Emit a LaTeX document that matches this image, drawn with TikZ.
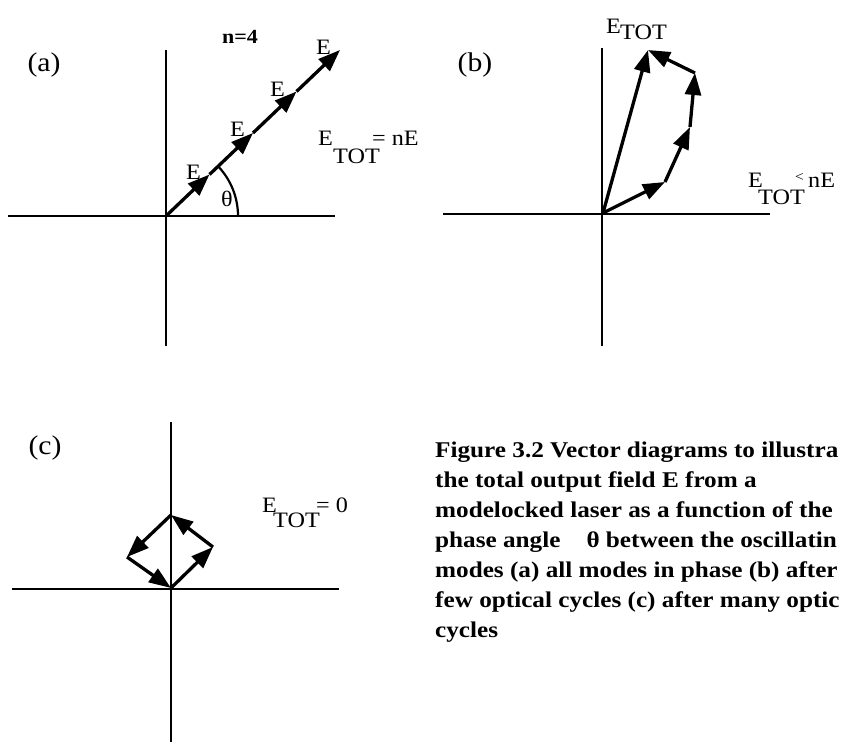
\documentclass[tikz,border=0pt]{standalone}
\usepackage{fontspec}
\setmainfont{Liberation Serif}[FakeStretch=1.1]
\newfontfamily\capfont{Liberation Serif}[FakeStretch=1.12]
\usetikzlibrary{arrows.meta}
\begin{document}
\begin{tikzpicture}[x=1pt,y=-1pt,
  axis/.style={line width=2.4pt},
  vec/.style={line width=3.3pt,-{Triangle[length=22pt,width=16pt]}},
  lbl/.style={font=\fontsize{22}{24}\selectfont, inner sep=0pt, anchor=base west},
  elbl/.style={font=\fontsize{22}{24}\selectfont, inner sep=0pt},
  panel/.style={font=\fontsize{27}{30}\selectfont, inner sep=0pt},
  captext/.style={font=\capfont\fontsize{22.5}{26}\selectfont\bfseries, inner sep=0pt, anchor=base west}]
\useasboundingbox[fill=white] (0,0) rectangle (847,744);

% ---------- panel (a)
\coordinate (aL) at (8,216);
\coordinate (aR) at (335,216);
\coordinate (aU) at (166,50);
\coordinate (aD) at (166,346);
\draw[axis] (aL) -- (aR);
\draw[axis] (aU) -- (aD);
\coordinate (a0) at (166,216);
\coordinate (a1) at (209.5,174.5);
\coordinate (a2) at (253,133);
\coordinate (a3) at (296.5,91.5);
\coordinate (a4) at (340,50);
\draw[vec] (a0) -- (a1);
\draw[vec] (a1) -- (a2);
\draw[vec] (a2) -- (a3);
\draw[vec] (a3) -- (a4);
\draw[line width=2.2pt] (a0) ++(72,0) arc[start angle=0, end angle=-43.6, radius=72];
\node[panel] (labA) at (44,65) {(a)};
\node[font=\fontsize{20}{22}\selectfont\bfseries, inner sep=0pt] (nfour) at (240,37) {n=4};
\node[elbl] (e1) at (193.5,172.5) {E};
\node[elbl] (e2) at (237.5,129.5) {E};
\node[elbl] (e3) at (277.5,89.5) {E};
\node[elbl] (e4) at (323.5,47.5) {E};
\node[elbl] (th) at (227,199) {θ};
\node[lbl] (aE) at (318,145) {E};
\node[lbl] (aT) at (333,163) {TOT};
\node[lbl] (aEq) at (372,145) {= nE};

% ---------- panel (b)
\coordinate (bL) at (443,214);
\coordinate (bR) at (770,214);
\coordinate (bU) at (602,48);
\coordinate (bD) at (602,346);
\draw[axis] (bL) -- (bR);
\draw[axis] (bU) -- (bD);
\coordinate (b0) at (603,213);
\coordinate (b1) at (665,182);
\coordinate (b2) at (690,127);
\coordinate (b3) at (695,73);
\coordinate (b4) at (648,50);
\draw[vec] (b0) -- (b1);
\draw[vec] (b1) -- (b2);
\draw[vec] (b2) -- (b3);
\draw[vec] (b3) -- (b4);
\draw[vec] (b0) -- (b4);
\node[panel] (labB) at (475,65) {(b)};
\node[lbl] (bE1) at (606,33) {E};
\node[lbl] (bT1) at (620,39) {TOT};
\node[lbl] (bE2) at (748,187) {E};
\node[lbl] (bT2) at (758,204) {TOT};
\node[lbl,font=\fontsize{14}{16}\selectfont] (bLt) at (795,181) {<};
\node[lbl] (bnE) at (808,187) {nE};

% ---------- panel (c)
\coordinate (cL) at (12,589);
\coordinate (cR) at (339,589);
\coordinate (cU) at (171,422);
\coordinate (cD) at (171,742);
\draw[axis] (cL) -- (cR);
\draw[axis] (cU) -- (cD);
\coordinate (c0) at (171,588);
\coordinate (c1) at (213,547);
\coordinate (c2) at (171,515);
\coordinate (c3) at (127,557);
\draw[vec] (c0) -- (c1);
\draw[vec] (c1) -- (c2);
\draw[vec] (c2) -- (c3);
\draw[vec] (c3) -- (c0);
\node[panel] (labC) at (45,448) {(c)};
\node[lbl] (cE) at (262,512) {E};
\node[lbl] (cT) at (273,527) {TOT};
\node[lbl] (cEq) at (316,512) {= 0};

% ---------- caption (cut at the right edge as in the reference)
\node[captext] (cap1) at (435,457) {Figure 3.2 Vector diagrams to illustra};
\node[captext] (cap2) at (435,487) {the total output field E from a};
\node[captext] (cap3) at (435,517) {modelocked laser as a function of the};
\node[captext] (cap4) at (435,547) {phase angle\hspace{26pt}θ between the oscillatin};
\node[captext] (cap5) at (435,577) {modes (a) all modes in phase (b) after};
\node[captext] (cap6) at (435,607) {few optical cycles (c) after many optic};
\node[captext] (cap7) at (435,637) {cycles};
\end{tikzpicture}
\end{document}
